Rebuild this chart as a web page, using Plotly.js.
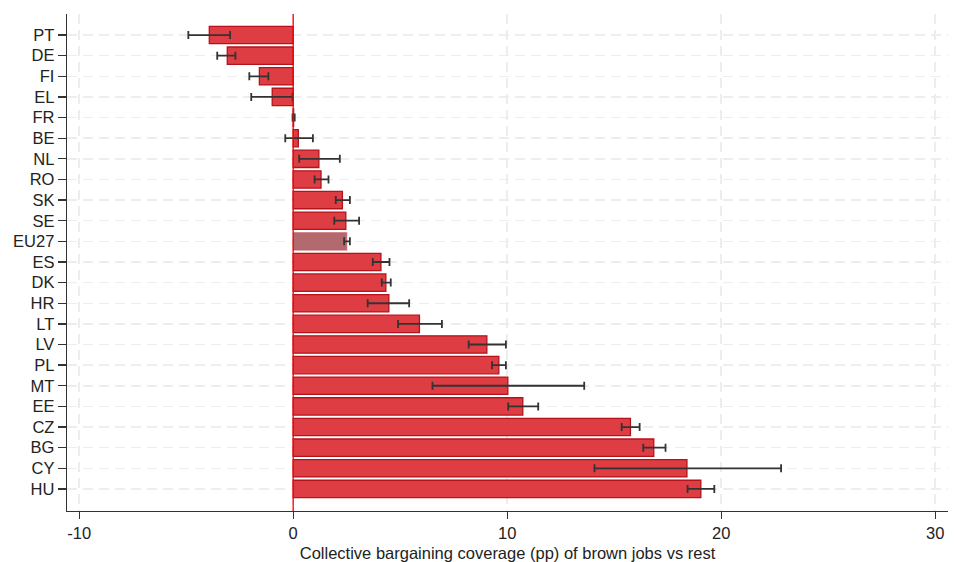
<!DOCTYPE html>
<html><head><meta charset="utf-8">
<script src="https://cdn.plot.ly/plotly-3.0.1.min.js"></script>
<style>html,body{margin:0;padding:0;background:#fff}#chart{width:955px;height:562px}</style>
</head><body><div id="chart"></div>
<script>
const countries = ["PT","DE","FI","EL","FR","BE","NL","RO","SK","SE","EU27","ES","DK","HR","LT","LV","PL","MT","EE","CZ","BG","CY","HU"];
const values    = [-3.92,-3.08,-1.58,-0.98,0.02,0.24,1.2,1.3,2.3,2.46,2.5,4.1,4.33,4.47,5.9,9.05,9.61,10.03,10.73,15.76,16.85,18.4,19.05];
const ciLow     = [-4.9,-3.55,-2.05,-1.96,-0.03,-0.37,0.28,1.0,1.99,1.92,2.38,3.72,4.14,3.48,4.9,8.2,9.29,6.51,10.05,15.35,16.36,14.08,18.43];
const ciHigh    = [-2.95,-2.7,-1.16,-0.03,0.07,0.92,2.18,1.65,2.65,3.08,2.65,4.5,4.56,5.42,6.95,9.94,9.94,13.6,11.45,16.19,17.4,22.8,19.68];
const xTicks    = [-10,0,10,20,30];

const plus = values.map((v,i)=>ciHigh[i]-v);
const minus = values.map((v,i)=>v-ciLow[i]);
const fills = countries.map(c => c==="EU27" ? "rgba(170,90,95,0.9)" : "rgba(220,40,48,0.9)");
const lines = countries.map(c => c==="EU27" ? "rgba(200,80,88,0.6)" : "#b5121b");

const trace = {
  type:"bar", orientation:"h", x: values, y: countries,
  width: 0.84,
  marker:{color: fills, line:{color: lines, width:1.3}},
  error_x:{type:"data", symmetric:false, array: plus, arrayminus: minus, color:"#333", thickness:1.8, width:4},
  hoverinfo:"x+y"
};

const layout = {
  width:955, height:562,
  margin:{l:67, r:7, t:14, b:51},
  paper_bgcolor:"#fff", plot_bgcolor:"#fff",
  showlegend:false,
  font:{family:"Liberation Sans, Arial, sans-serif", color:"#222"},
  xaxis:{
    range:[-10.57, 30.6], tickvals:xTicks, ticktext:xTicks.map(String),
    showgrid:true, gridcolor:"#ededed", griddash:"10px,6px", gridwidth:1.5,
    zeroline:false, showline:true, linecolor:"#333", linewidth:1.3,
    ticks:"outside", ticklen:7, tickcolor:"#333", tickwidth:1.3,
    tickfont:{size:16.5, color:"#222"},
    automargin:false,
    title:{text:"Collective bargaining coverage (pp) of brown jobs vs rest", font:{size:16.5, color:"#222"}, standoff:14}
  },
  yaxis:{
    type:"category", categoryorder:"array", categoryarray: countries,
    range:[23.07, -1.02],
    showgrid:true, gridcolor:"#ededed", griddash:"10px,6px", gridwidth:1.5,
    zeroline:false, showline:true, linecolor:"#333", linewidth:1.3,
    ticks:"outside", ticklen:8, tickcolor:"#333", tickwidth:1.3,
    tickfont:{size:16.5, color:"#222"}
  },
  shapes:[{type:"line", xref:"x", yref:"paper", x0:0, x1:0, y0:0, y1:1, line:{color:"#ff0000", width:1.3}, layer:"above"}]
};
Plotly.newPlot("chart",[trace],layout,{displayModeBar:false, staticPlot:true});
</script></body></html>
